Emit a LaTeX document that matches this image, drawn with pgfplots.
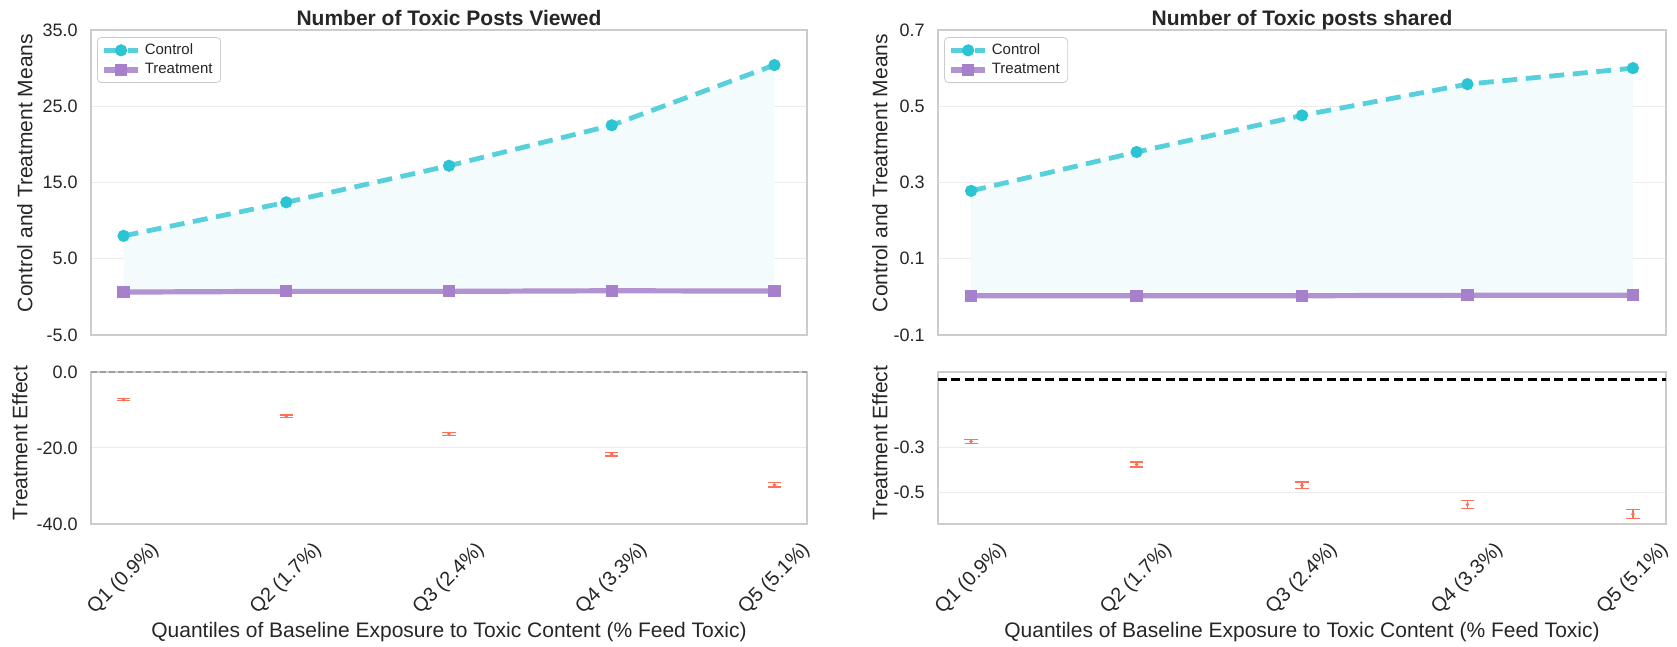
\documentclass[border=0pt]{standalone}
\usepackage{fontspec}
\setmainfont{Liberation Sans}
\usepackage{pgfplots}
\usepackage{pgfplotstable}
\pgfplotsset{compat=1.18}
\definecolor{ctl}{RGB}{88,208,220}
\definecolor{ctlmark}{RGB}{43,196,210}
\definecolor{trt}{RGB}{178,146,208}
\definecolor{trtmark}{RGB}{166,128,202}
\definecolor{fillc}{RGB}{243,251,253}
\definecolor{errc}{RGB}{255,112,88}
\definecolor{spine}{RGB}{204,204,204}
\definecolor{gridc}{RGB}{235,235,235}
\definecolor{txt}{RGB}{38,38,38}

\pgfplotstableread{
x ctl trt
0 8.0 0.63
1 12.4 0.72
2 17.2 0.72
3 22.5 0.80
4 30.4 0.76
}\viewed
\pgfplotstableread{
x eff err
0 -7.3 0.27
1 -11.6 0.30
2 -16.3 0.40
3 -21.6 0.49
4 -29.7 0.58
}\viewedeff
\pgfplotstableread{
x ctl trt
0 0.278 0.003
1 0.380 0.003
2 0.476 0.003
3 0.558 0.004
4 0.600 0.004
}\shared
\pgfplotstableread{
x eff err
0 -0.274 0.009
1 -0.376 0.011
2 -0.468 0.0146
3 -0.553 0.0175
4 -0.595 0.019
}\sharedeff

\pgfplotsset{
  base/.style={
    scale only axis, clip=false,
    xmin=-0.2, xmax=4.2, xtick={0,1,2,3,4},
    axis line style={draw=spine, line width=0.75pt},
    major tick length=0pt,
    ymajorgrids, grid style={draw=gridc, line width=0.5pt},
    tick label style={font=\fontsize{9}{11}\selectfont, text=txt},
    yticklabel style={anchor=east, inner sep=0pt, xshift=-6.5pt},
    label style={font=\fontsize{10.5}{12.5}\selectfont, text=txt},
    title style={at={(axis description cs:0.5,1)}, anchor=base, yshift=-3.8pt, font=\bfseries\fontsize{10.5}{12}\selectfont, text=txt},
    legend style={at={(axis description cs:0.0084,0.977)}, anchor=north west, draw=spine, rounded corners=2pt, font=\fontsize{7.5}{9}\selectfont, text=txt, inner xsep=2pt, inner ysep=1pt, row sep=-1pt},
    legend cell align=left,
  },
  toppanel/.style={base, height=152.5pt, xticklabels={}},
  botpanel/.style={base, height=76pt,
    xticklabels={Q1 (0.9\%),Q2 (1.7\%),Q3 (2.4\%),Q4 (3.3\%),Q5 (5.1\%)},
    xticklabel style={anchor=center, yshift=-27.5pt, rotate=45, font=\fontsize{10}{11}\selectfont},
    xlabel={Quantiles of Baseline Exposure to Toxic Content (\% Feed Toxic)},
    xlabel style={at={(axis description cs:0.5,0)}, anchor=base, yshift=-57pt},
  },
  ctlplot/.style={ctl, line width=2.4pt, dash pattern=on 7.5pt off 4.3pt, mark=*, mark size=2.8pt, mark options={solid, fill=ctlmark, draw=ctlmark, line width=0.5pt}},
  trtplot/.style={trt, line width=2.6pt, mark=square*, mark size=2.8pt, mark options={fill=trtmark, draw=trtmark, line width=0.5pt}},
  effplot/.style={only marks, errc, mark=*, mark size=0.7pt, mark options={fill=errc, draw=errc},
    error bars/.cd, y dir=both, y explicit,
    error bar style={line width=0.7pt, errc},
    error mark options={rotate=90, mark size=3.3pt, line width=0.6pt, errc}},
}

\begin{document}
\begin{tikzpicture}
% ---------- left top
\begin{axis}[toppanel, at={(45.5pt,156pt)}, anchor=south west, width=358pt,
  ymin=-5, ymax=35, ytick={-5,5,15,25,35}, yticklabels={-5.0,5.0,15.0,25.0,35.0},
  title={Number of Toxic Posts Viewed},
  ylabel={Control and Treatment Means},
  ylabel style={at={(axis description cs:-0.0922,0.531)}, anchor=center}]
\addplot[fill=fillc, draw=none, forget plot] coordinates {(0,8.0) (1,12.4) (2,17.2) (3,22.5) (4,30.4) (4,0.76) (3,0.80) (2,0.72) (1,0.72) (0,0.63)} -- cycle;
\addplot[ctlplot] table[x=x,y=ctl]{\viewed};
\addlegendentry{Control}
\addplot[trtplot] table[x=x,y=trt]{\viewed};
\addlegendentry{Treatment}
\end{axis}

% ---------- left bottom
\begin{axis}[botpanel, at={(45.5pt,61.5pt)}, anchor=south west, width=358pt,
  ymin=-40, ymax=0, ytick={-40,-20,0}, yticklabels={-40.0,-20.0,0.0},
  ylabel={Treatment Effect},
  ylabel style={at={(axis description cs:-0.0992,0.533)}, anchor=center}]
\addplot[gray!75, line width=0.6pt, dash pattern=on 3pt off 1.5pt, forget plot] coordinates {(-0.2,0) (4.2,0)};
\addplot[effplot] table[x=x,y=eff,y error=err]{\viewedeff};
\end{axis}

% ---------- right top
\begin{axis}[toppanel, at={(469pt,156pt)}, anchor=south west, width=364pt,
  ymin=-0.1, ymax=0.7, ytick={-0.1,0.1,0.3,0.5,0.7}, yticklabels={-0.1,0.1,0.3,0.5,0.7},
  title={Number of Toxic posts shared},
  ylabel={Control and Treatment Means},
  ylabel style={at={(axis description cs:-0.0797,0.531)}, anchor=center}]
\addplot[fill=fillc, draw=none, forget plot] coordinates {(0,0.278) (1,0.380) (2,0.476) (3,0.558) (4,0.600) (4,0.004) (3,0.004) (2,0.003) (1,0.003) (0,0.003)} -- cycle;
\addplot[ctlplot] table[x=x,y=ctl]{\shared};
\addlegendentry{Control}
\addplot[trtplot] table[x=x,y=trt]{\shared};
\addlegendentry{Treatment}
\end{axis}

% ---------- right bottom
\begin{axis}[botpanel, at={(469pt,61.5pt)}, anchor=south west, width=364pt,
  ymin=-0.639, ymax=0.033, ytick={-0.5,-0.3}, yticklabels={-0.5,-0.3},
  ylabel={Treatment Effect},
  ylabel style={at={(axis description cs:-0.0797,0.533)}, anchor=center}]
\addplot[black, line width=1.2pt, dash pattern=on 4.5pt off 2.2pt, forget plot] coordinates {(-0.2,0) (4.2,0)};
\addplot[effplot] table[x=x,y=eff,y error=err]{\sharedeff};
\end{axis}
\pgfresetboundingbox
\useasboundingbox (0,0) rectangle (838.5pt,323.5pt);
\end{tikzpicture}
\end{document}
